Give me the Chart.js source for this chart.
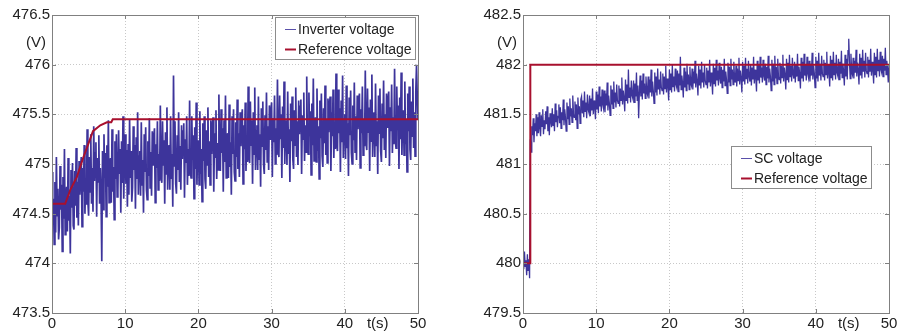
<!DOCTYPE html>
<html>
<head>
<meta charset="utf-8">
<script src="https://cdn.jsdelivr.net/npm/chart.js@4.4.1/dist/chart.umd.min.js"></script>
<style>
  body { margin: 0; background: #fff; }
  #wrap { position: relative; width: 905px; height: 333px; }
  .box { position: absolute; top: 0; height: 333px; }
</style>
</head>
<body>
<div id="wrap">
  <div class="box" style="left:0;width:452px"><canvas id="invChart"></canvas></div>
  <div class="box" style="left:452px;width:453px"><canvas id="scChart"></canvas></div>
</div>
<script>
// sample spacing of the measured traces (s)
const dt = 0.1;
const timeTicks = [0, 10, 20, 30, 40, 50];

// left panel: inverter voltage, one row per second
const invVoltage = [
  474.92, 474.42, 474.65, 474.19, 474.82, 474.31, 475.07, 474.48, 474.75, 474.24,
  474.36, 474.98, 474.54, 474.79, 474.12, 474.87, 474.45, 475.15, 474.29, 474.68,
  474.77, 474.32, 475.06, 474.43, 474.68, 474.10, 474.94, 474.56, 475.01, 474.38,
  474.34, 474.93, 474.58, 475.16, 474.46, 474.82, 474.38, 475.03, 474.69, 474.97,
  475.07, 474.37, 474.96, 474.72, 475.19, 474.50, 474.86, 474.59, 475.35, 474.63,
  474.48, 475.07, 474.72, 475.30, 474.60, 474.96, 474.52, 475.38, 474.83, 475.11,
  475.22, 474.47, 475.06, 474.82, 475.29, 474.60, 474.96, 474.69, 474.02, 475.13,
  474.54, 475.30, 474.86, 475.11, 474.47, 475.19, 474.77, 475.44, 474.61, 475.00,
  475.06, 474.61, 475.35, 474.72, 474.97, 474.44, 475.23, 474.85, 475.30, 474.67,
  474.72, 475.34, 474.90, 475.15, 474.51, 475.23, 474.81, 475.48, 474.65, 475.04,
  475.30, 474.80, 475.14, 474.57, 475.20, 474.69, 475.45, 474.86, 475.13, 474.62,
  474.76, 475.38, 474.94, 475.19, 474.55, 475.27, 474.85, 475.52, 474.69, 475.08,
  475.13, 474.68, 475.42, 474.79, 475.04, 474.51, 475.30, 474.92, 475.37, 474.74,
  474.64, 475.23, 474.88, 475.46, 474.76, 475.12, 474.68, 475.33, 474.99, 475.27,
  475.36, 474.61, 475.20, 474.96, 475.43, 474.74, 475.10, 474.83, 475.59, 474.87,
  474.81, 475.43, 474.99, 475.24, 474.60, 475.32, 474.90, 475.57, 474.74, 475.13,
  475.19, 474.74, 475.48, 474.85, 475.10, 474.57, 475.89, 474.98, 475.43, 474.80,
  474.70, 475.29, 474.94, 475.52, 474.82, 475.18, 474.74, 475.39, 475.05, 475.33,
  475.41, 474.66, 475.25, 475.01, 475.48, 474.79, 475.15, 474.88, 475.64, 474.92,
  474.86, 475.48, 475.04, 475.29, 474.65, 475.37, 474.95, 475.62, 474.79, 475.18,
  475.24, 474.79, 475.53, 474.90, 475.15, 474.62, 475.41, 475.03, 475.48, 474.85,
  474.75, 475.34, 474.99, 475.57, 474.87, 475.23, 474.79, 475.44, 475.10, 475.38,
  475.47, 474.72, 475.31, 475.07, 475.54, 474.85, 475.21, 474.94, 475.70, 474.98,
  474.93, 475.55, 475.11, 475.36, 474.72, 475.44, 475.02, 475.69, 474.86, 475.25,
  475.31, 474.86, 475.60, 474.97, 475.22, 474.69, 475.48, 475.10, 475.55, 474.92,
  474.83, 475.42, 475.07, 475.65, 474.95, 475.31, 474.87, 475.52, 475.18, 475.46,
  475.55, 474.80, 475.39, 475.15, 475.62, 474.93, 475.29, 475.02, 475.78, 475.06,
  475.01, 475.63, 475.19, 475.44, 474.80, 475.52, 475.10, 475.77, 474.94, 475.33,
  475.39, 474.94, 475.68, 475.05, 475.30, 474.77, 475.56, 475.18, 475.63, 475.00,
  474.90, 475.49, 475.14, 475.72, 475.02, 475.38, 474.94, 475.59, 475.25, 475.53,
  475.62, 474.87, 475.46, 475.22, 475.69, 475.00, 475.36, 475.09, 475.85, 475.13,
  475.07, 475.69, 475.25, 475.50, 474.86, 475.58, 475.16, 475.83, 475.00, 475.39,
  475.44, 474.99, 475.73, 475.10, 475.35, 474.82, 475.61, 475.23, 475.68, 475.05,
  474.95, 475.54, 475.19, 475.77, 475.07, 475.43, 474.99, 475.64, 475.30, 475.58,
  475.65, 474.90, 475.49, 475.25, 475.72, 475.03, 475.39, 475.12, 475.88, 475.16,
  475.10, 475.72, 475.28, 475.53, 474.89, 475.61, 475.19, 475.86, 475.03, 475.42,
  475.47, 475.02, 475.76, 475.13, 475.38, 474.85, 475.64, 475.26, 475.71, 475.08,
  474.97, 475.56, 475.21, 475.79, 475.09, 475.45, 475.01, 475.66, 475.32, 475.60,
  475.68, 474.93, 475.52, 475.28, 475.75, 475.06, 475.42, 475.15, 475.91, 475.19,
  475.13, 475.75, 475.31, 475.56, 474.92, 475.64, 475.22, 475.89, 475.06, 475.45,
  475.50, 475.05, 475.79, 475.16, 475.41, 474.88, 475.67, 475.29, 475.74, 475.11,
  475.00, 475.59, 475.24, 475.82, 475.12, 475.48, 475.04, 475.69, 475.35, 475.63,
  475.71, 474.96, 475.55, 475.31, 475.78, 475.09, 475.45, 475.18, 475.94, 475.22,
  475.14, 475.76, 475.32, 475.57, 474.93, 475.65, 475.23, 475.90, 475.07, 475.46,
  475.52, 475.07, 475.81, 475.18, 475.43, 474.90, 475.69, 475.31, 475.76, 475.13,
  475.02, 475.61, 475.26, 475.84, 475.14, 475.50, 475.06, 475.71, 475.37, 475.65,
  475.73, 474.98, 475.57, 475.33, 475.80, 475.11, 475.47, 475.20, 475.96, 475.24,
  475.16, 475.78, 475.34, 475.59, 474.95, 475.67, 475.25, 475.92, 475.09, 475.48,
  475.54, 475.09, 475.83, 475.20, 475.45, 474.92, 475.71, 475.33, 475.78, 475.15,
  475.04, 475.63, 475.28, 475.86, 475.16, 475.52, 475.08, 475.73, 476.00, 475.67,
  475.45
];
const invRefT = [0, 1.8, 2.5, 3.4, 4.3, 5.0, 5.6, 6.6, 7.5, 8.1, 8.3, 50];
const invRefV = [474.6, 474.6, 474.74, 474.87, 475.07, 475.21, 475.33, 475.39, 475.42, 475.42, 475.45, 475.45];
const invYTicks = [473.5, 474, 474.5, 475, 475.5, 476, 476.5];

// right panel: SC voltage, one row per second
const scVoltage = [
  480.06, 479.94, 480.12, 479.97, 480.03, 479.88, 480.09, 479.93, 480.04, 479.85,
  481.25, 481.12, 481.38, 481.29, 481.46, 481.22, 481.41, 481.33, 481.50, 481.28,
  481.47, 481.31, 481.52, 481.36, 481.28, 481.49, 481.38, 481.55, 481.30, 481.44,
  481.35, 481.53, 481.40, 481.58, 481.33, 481.47, 481.29, 481.51, 481.43, 481.37,
  481.56, 481.39, 481.50, 481.33, 481.61, 481.42, 481.54, 481.37, 481.48, 481.60,
  481.41, 481.57, 481.36, 481.52, 481.44, 481.65, 481.39, 481.55, 481.47, 481.33,
  481.62, 481.45, 481.58, 481.40, 481.66, 481.48, 481.56, 481.42, 481.69, 481.50,
  481.47, 481.63, 481.44, 481.60, 481.36, 481.67, 481.50, 481.58, 481.41, 481.65,
  481.68, 481.51, 481.64, 481.47, 481.73, 481.53, 481.62, 481.46, 481.70, 481.55,
  481.52, 481.69, 481.48, 481.66, 481.54, 481.76, 481.50, 481.64, 481.57, 481.45,
  481.73, 481.55, 481.70, 481.51, 481.78, 481.58, 481.68, 481.53, 481.75, 481.60,
  481.56, 481.74, 481.52, 481.71, 481.59, 481.82, 481.54, 481.69, 481.61, 481.49,
  481.79, 481.60, 481.75, 481.56, 481.83, 481.62, 481.72, 481.57, 481.80, 481.64,
  481.61, 481.79, 481.58, 481.76, 481.64, 481.87, 481.60, 481.74, 481.66, 481.53,
  481.85, 481.64, 481.80, 481.61, 481.95, 481.67, 481.77, 481.62, 481.84, 481.69,
  481.66, 481.84, 481.62, 481.81, 481.68, 481.92, 481.64, 481.79, 481.46, 481.72,
  481.89, 481.68, 481.84, 481.65, 481.91, 481.71, 481.81, 481.66, 481.88, 481.73,
  481.70, 481.88, 481.66, 481.85, 481.72, 481.95, 481.68, 481.83, 481.74, 481.61,
  481.92, 481.72, 481.88, 481.69, 481.96, 481.75, 481.85, 481.70, 481.93, 481.77,
  481.74, 481.91, 481.70, 481.88, 481.76, 481.99, 481.72, 481.86, 481.78, 481.64,
  481.95, 481.75, 481.91, 481.72, 482.00, 481.78, 481.88, 481.73, 481.96, 481.80,
  481.77, 481.94, 481.73, 481.91, 481.79, 482.08, 481.75, 481.89, 481.81, 481.67,
  481.97, 481.77, 481.93, 481.74, 482.01, 481.80, 481.90, 481.75, 481.98, 481.82,
  481.79, 481.96, 481.75, 481.93, 481.81, 482.04, 481.77, 481.91, 481.83, 481.69,
  481.99, 481.79, 481.95, 481.76, 482.03, 481.82, 481.92, 481.77, 482.00, 481.84,
  481.80, 481.97, 481.76, 481.94, 481.82, 482.05, 481.78, 481.92, 481.84, 481.70,
  482.01, 481.81, 481.97, 481.78, 482.05, 481.84, 481.94, 481.79, 482.02, 481.86,
  481.81, 481.98, 481.77, 481.95, 481.83, 482.06, 481.79, 481.93, 481.85, 481.71,
  482.02, 481.82, 481.98, 481.79, 482.06, 481.85, 481.95, 481.80, 482.03, 481.87,
  481.82, 481.99, 481.78, 481.96, 481.84, 482.07, 481.80, 481.94, 481.86, 481.72,
  482.03, 481.83, 481.99, 481.80, 482.07, 481.86, 481.96, 481.81, 482.04, 481.88,
  481.83, 482.00, 481.79, 481.97, 481.85, 482.08, 481.81, 481.95, 481.87, 481.73,
  482.04, 481.84, 482.00, 481.81, 482.08, 481.87, 481.97, 481.82, 482.05, 481.89,
  481.84, 482.01, 481.80, 481.98, 481.86, 482.09, 481.82, 481.96, 481.88, 481.74,
  482.05, 481.83, 482.01, 481.80, 482.09, 481.86, 481.98, 481.81, 482.06, 481.88,
  481.85, 482.02, 481.81, 481.99, 481.87, 482.10, 481.83, 481.97, 481.89, 481.75,
  482.06, 481.85, 482.02, 481.82, 482.10, 481.88, 481.99, 481.83, 482.07, 481.90,
  481.86, 482.03, 481.82, 482.00, 481.88, 482.11, 481.84, 481.98, 481.90, 481.76,
  482.07, 481.86, 482.03, 481.83, 482.11, 481.89, 482.00, 481.84, 482.08, 481.91,
  481.87, 482.04, 481.83, 482.01, 481.89, 482.12, 481.85, 481.99, 481.91, 481.77,
  482.08, 481.86, 482.04, 481.83, 482.12, 481.89, 482.01, 481.84, 482.09, 481.91,
  481.88, 482.05, 481.84, 482.02, 481.90, 482.13, 481.86, 482.00, 481.92, 481.78,
  482.09, 481.87, 482.05, 481.84, 482.13, 481.90, 482.02, 481.85, 482.10, 481.92,
  481.89, 482.06, 481.85, 482.03, 481.91, 482.14, 481.87, 482.01, 481.93, 481.79,
  482.10, 481.88, 482.06, 481.85, 482.14, 482.26, 482.03, 481.86, 482.11, 481.93,
  481.90, 482.07, 481.86, 482.04, 481.92, 482.15, 481.88, 482.02, 481.94, 481.80,
  482.11, 481.89, 482.07, 481.86, 482.15, 481.93, 482.04, 481.87, 482.12, 481.94,
  481.91, 482.08, 481.87, 482.05, 481.93, 482.16, 481.89, 482.03, 481.95, 481.81,
  482.12, 481.90, 482.08, 481.87, 482.16, 481.94, 482.05, 481.88, 482.13, 481.95,
  481.92, 482.09, 481.88, 482.06, 481.94, 482.17, 481.90, 482.04, 481.96, 481.82,
  482.00
];
const scRefT = [0, 1, 1, 50];
const scRefV = [480, 480, 482, 482];
const scYTicks = [479.5, 480, 480.5, 481, 481.5, 482, 482.5];

const FONT = '"Liberation Sans", Arial, sans-serif';
const BLUE = '#3d349b';
const RED = '#a8102e';

// matlab style box, inward ticks, unit labels and legend
const matlabFrame = {
  id: 'matlabFrame',
  afterDraw(chart, args, opts) {
    const ctx = chart.ctx;
    const a = chart.chartArea;
    const x = chart.scales.x, y = chart.scales.y;
    ctx.save();
    ctx.strokeStyle = '#808080';
    ctx.lineWidth = 1;
    ctx.beginPath();
    x.ticks.forEach(t => {
      const px = Math.round(x.getPixelForValue(t.value)) + 0.5;
      ctx.moveTo(px, a.bottom); ctx.lineTo(px, a.bottom - 4);
      ctx.moveTo(px, a.top); ctx.lineTo(px, a.top + 4);
    });
    y.ticks.forEach(t => {
      const py = Math.round(y.getPixelForValue(t.value)) + 0.5;
      ctx.moveTo(a.left, py); ctx.lineTo(a.left + 4, py);
      ctx.moveTo(a.right, py); ctx.lineTo(a.right - 4, py);
    });
    ctx.stroke();
    ctx.strokeRect(Math.round(a.left) + 0.5, Math.round(a.top) + 0.5, Math.round(a.width), Math.round(a.height));

    ctx.fillStyle = '#222';
    ctx.font = '15px ' + FONT;
    ctx.textBaseline = 'middle';
    ctx.textAlign = 'right';
    ctx.fillText('(V)', a.left - 6, y.getPixelForValue(opts.unitAt));
    ctx.textAlign = 'center';
    ctx.fillText('t(s)', x.getPixelForValue(44.5), a.bottom + 11);

    // legend box
    ctx.font = '14px ' + FONT;
    const ds = chart.data.datasets;
    let w = 0;
    ds.forEach(d => { w = Math.max(w, ctx.measureText(d.label).width); });
    w = Math.round(w + 26);
    const lx = Math.round(a.right - opts.legendRight - w);
    const ly = Math.round(a.top + opts.legendTop);
    ctx.fillStyle = '#fff';
    ctx.fillRect(lx, ly, w, 42);
    ctx.strokeStyle = '#8c8c8c';
    ctx.strokeRect(lx + 0.5, ly + 0.5, w, 42);
    ctx.textAlign = 'left';
    ds.forEach((d, i) => {
      const cy = ly + 12 + i * 20;
      ctx.strokeStyle = d.legendColor;
      ctx.lineWidth = d.legendWidth;
      ctx.beginPath();
      ctx.moveTo(lx + 10, cy + 0.5); ctx.lineTo(lx + 21, cy + 0.5);
      ctx.stroke();
      ctx.fillStyle = '#222';
      ctx.fillText(d.label, lx + 23, cy + 1);
    });
    ctx.restore();
  }
};

function makeChart(id, opts) {
  const trace = opts.trace.map((v, i) => ({x: i * dt, y: v}));
  const ref = opts.refT.map((t, i) => ({x: t, y: opts.refV[i]}));
  return new Chart(document.getElementById(id), {
    type: 'line',
    data: {
      datasets: [
        { label: opts.traceLabel, data: trace, borderColor: BLUE, borderWidth: opts.traceWidth,
          pointRadius: 0, order: 1, legendColor: '#5a50aa', legendWidth: 1 },
        { label: 'Reference voltage', data: ref, borderColor: RED, borderWidth: 2,
          pointRadius: 0, order: 0, legendColor: RED, legendWidth: 2 }
      ]
    },
    options: {
      animation: false,
      responsive: true,
      maintainAspectRatio: false,
      layout: { padding: { top: 15, right: opts.padRight, left: 0, bottom: 0 } },
      plugins: {
        legend: { display: false },
        tooltip: { enabled: false },
        matlabFrame: { unitAt: opts.unitAt, legendRight: opts.legendRight, legendTop: opts.legendTop }
      },
      scales: {
        x: {
          type: 'linear', min: 0, max: 50,
          afterBuildTicks: axis => { axis.ticks = timeTicks.map(v => ({value: v})); },
          afterFit: axis => { axis.height = 20; },
          ticks: { color: '#222', font: { family: FONT, size: 15 }, padding: 2, maxRotation: 0,
                   callback: v => String(v) },
          grid: { color: '#c8c8c8', drawTicks: false },
          border: { display: false, dash: [1, 2] }
        },
        y: {
          min: opts.yTicks[0], max: opts.yTicks[opts.yTicks.length - 1],
          afterBuildTicks: axis => { axis.ticks = opts.yTicks.map(v => ({value: v})); },
          afterFit: axis => { axis.width = opts.axisWidth; },
          ticks: { color: '#222', font: { family: FONT, size: 15 }, padding: 2,
                   callback: v => String(v) },
          grid: { color: '#c8c8c8', drawTicks: false },
          border: { display: false, dash: [1, 2] }
        }
      }
    },
    plugins: [matlabFrame]
  });
}

makeChart('invChart', {
  trace: invVoltage, traceLabel: 'Inverter voltage', refT: invRefT, refV: invRefV, traceWidth: 1.7,
  yTicks: invYTicks, axisWidth: 52, padRight: 34, unitAt: 476.22, legendRight: 3, legendTop: 2
});
makeChart('scChart', {
  trace: scVoltage, traceLabel: 'SC voltage', refT: scRefT, refV: scRefV, traceWidth: 1.3,
  yTicks: scYTicks, axisWidth: 71, padRight: 16, unitAt: 482.22, legendRight: 18, legendTop: 131
});
</script>
</body>
</html>
